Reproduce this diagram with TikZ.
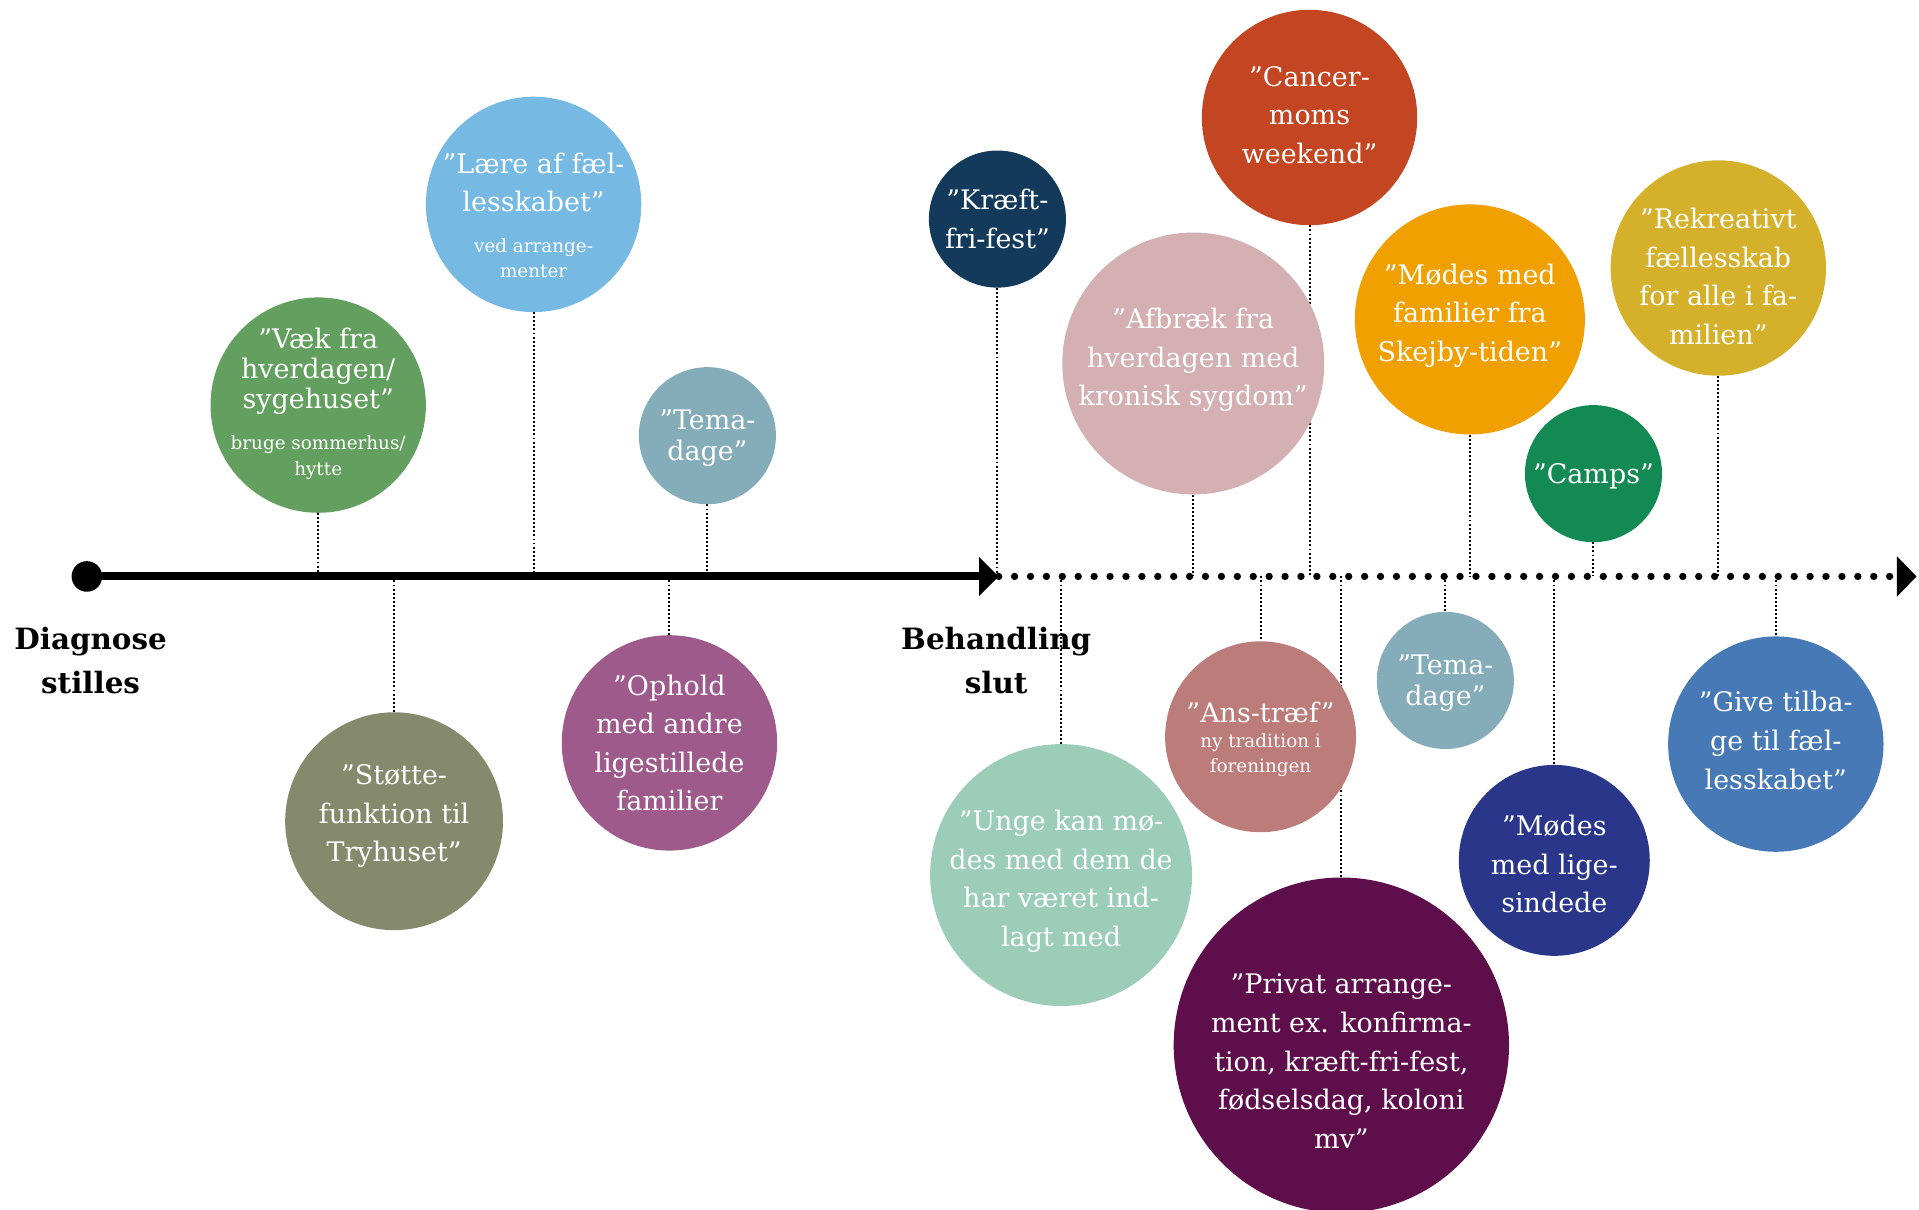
\documentclass[tikz,border=0pt]{standalone}
\usepackage{fontspec}
\setmainfont{DejaVu Serif}
\usetikzlibrary{arrows.meta,backgrounds}

\definecolor{vaekgreen}{HTML}{63A05F}
\definecolor{laereblue}{HTML}{76B9E2}
\definecolor{temagray}{HTML}{84ADB9}
\definecolor{kraeftnavy}{HTML}{143A5B}
\definecolor{cancerred}{HTML}{C44522}
\definecolor{afbraekpink}{HTML}{D4B0B3}
\definecolor{moedesorange}{HTML}{F0A001}
\definecolor{campsgreen}{HTML}{138A53}
\definecolor{rekreayellow}{HTML}{D5B12B}
\definecolor{stoetteolive}{HTML}{868A6D}
\definecolor{opholdpurple}{HTML}{9E5A8B}
\definecolor{ungemint}{HTML}{9BCDB9}
\definecolor{ansrose}{HTML}{BC7C7A}
\definecolor{privatplum}{HTML}{5E0F4B}
\definecolor{ligenavy}{HTML}{29368A}
\definecolor{giveblue}{HTML}{4679B5}

\tikzset{
  bubble/.style={circle, fill=#1, inner sep=0pt},
  say/.style={text=white, align=center, font=\fontsize{22}{31.5}\selectfont},
  saytight/.style={text=white, align=center, font=\fontsize{22}{25}\selectfont},
  aside/.style={text=white, align=center, font=\fontsize{15}{21}\selectfont},
  stem/.style={line width=1.6pt, dash pattern=on 1.6pt off 1.7pt},
  milestone/.style={align=center, font=\fontsize{24}{36}\selectfont\bfseries},
}

\begin{document}
\begin{tikzpicture}[x=1pt,y=-1pt]
\useasboundingbox (0,0) rectangle (1568,988);
\coordinate (tl) at (0,471);

% above the line
\node[bubble=vaekgreen, minimum size=176pt] (vaek) at (260,331) {};
\node[say, font=\fontsize{22}{24.5}\selectfont] (vaek-t) at ([yshift=28pt]vaek) {”Væk fra\\hverdagen/\\sygehuset”};
\node[aside] (vaek-s) at ([yshift=-43pt]vaek) {bruge sommerhus/\\hytte};
\node[bubble=laereblue, minimum size=176pt] (laere) at (436,167) {};
\node[say] (laere-t) at ([yshift=18pt]laere) {”Lære af fæl-\\lesskabet”};
\node[aside] (laere-s) at ([yshift=-44pt]laere) {ved arrange-\\menter};
\node[bubble=temagray, minimum size=112pt] (temaA) at (578,356) {};
\node[saytight] (temaA-t) at ([yshift=-2pt]temaA) {”Tema-\\dage”};
\node[bubble=kraeftnavy, minimum size=112pt] (kraeft) at (815,179) {};
\node[say] (kraeft-t) at (kraeft) {”Kræft-\\fri-fest”};
\node[bubble=cancerred, minimum size=176pt] (cancer) at (1070,96) {};
\node[say] (cancer-t) at ([yshift=2pt]cancer) {”Cancer-\\moms\\weekend”};
\node[bubble=afbraekpink, minimum size=214pt] (afbraek) at (975,297) {};
\node[say] (afbraek-t) at ([yshift=3pt]afbraek) {”Afbræk fra\\hverdagen med\\kronisk sygdom”};
\node[bubble=moedesorange, minimum size=188pt] (moedes) at (1201,261) {};
\node[say] (moedes-t) at ([yshift=3pt]moedes) {”Mødes med\\familier fra\\Skejby-tiden”};
\node[bubble=campsgreen, minimum size=112pt] (camps) at (1302,387) {};
\node[say] (camps-t) at ([yshift=-2pt]camps) {”Camps”};
\node[bubble=rekreayellow, minimum size=176pt] (rekrea) at (1404,219) {};
\node[say] (rekrea-t) at ([yshift=-7pt]rekrea) {”Rekreativt\\fællesskab\\for alle i fa-\\milien”};

% below the line
\node[bubble=stoetteolive, minimum size=178pt] (stoette) at (322,671) {};
\node[say] (stoette-t) at ([yshift=4pt]stoette) {”Støtte-\\funktion til\\Tryhuset”};
\node[bubble=opholdpurple, minimum size=176pt] (ophold) at (547,607) {};
\node[say] (ophold-t) at (ophold) {”Ophold\\med andre\\ligestillede\\familier};
\node[bubble=ungemint, minimum size=214pt] (unge) at (867,715) {};
\node[say] (unge-t) at ([yshift=-5pt]unge) {”Unge kan mø-\\des med dem de\\har været ind-\\lagt med};
\node[bubble=ansrose, minimum size=156pt] (ans) at (1030,602) {};
\node[say] (ans-t) at ([yshift=20pt]ans) {”Ans-træf”};
\node[aside] (ans-s) at ([yshift=-15pt]ans) {ny tradition i\\foreningen};
\node[bubble=privatplum, minimum size=274pt] (privat) at (1096,854) {};
\node[say] (privat-t) at ([yshift=-13pt]privat) {”Privat arrange-\\ment ex. konfirma-\\tion, kræft-fri-fest,\\fødselsdag, koloni\\mv”};
\node[bubble=temagray, minimum size=112pt] (temaB) at (1181,556) {};
\node[saytight] (temaB-t) at ([yshift=-2pt]temaB) {”Tema-\\dage”};
\node[bubble=ligenavy, minimum size=156pt] (lige) at (1270,703) {};
\node[say] (lige-t) at ([yshift=-3pt]lige) {”Mødes\\med lige-\\sindede};
\node[bubble=giveblue, minimum size=176pt] (give) at (1451,608) {};
\node[say] (give-t) at ([yshift=3pt]give) {”Give tilba-\\ge til fæl-\\lesskabet”};

% stems
\begin{scope}[on background layer]
\foreach \b in {vaek,laere,temaA,kraeft,cancer,afbraek,moedes,camps,rekrea}
  \draw[stem] (\b.south) -- (\b.south |- tl);
\foreach \b in {stoette,ophold,unge,ans,privat,temaB,lige,give}
  \draw[stem] (\b.north |- tl) -- (\b.north);
\end{scope}

% timeline
\node[circle, fill, minimum size=25pt, inner sep=0pt] (start) at (71,471) {};
\coordinate (halt) at (816,471);
\coordinate (stop) at (1566,471);
\draw[line width=6.5pt, -{Triangle[length=16pt,width=31pt]}] (start) -- (halt);
\draw[line width=6pt, line cap=round, dash pattern=on 0pt off 13pt,
  -{Triangle[length=16pt,width=32pt]}] (halt) -- (stop);
\node[milestone] (diag) at (74,540) {Diagnose\\stilles};
\node[milestone] (behandl) at (814,540) {Behandling\\slut};
\end{tikzpicture}
\end{document}
